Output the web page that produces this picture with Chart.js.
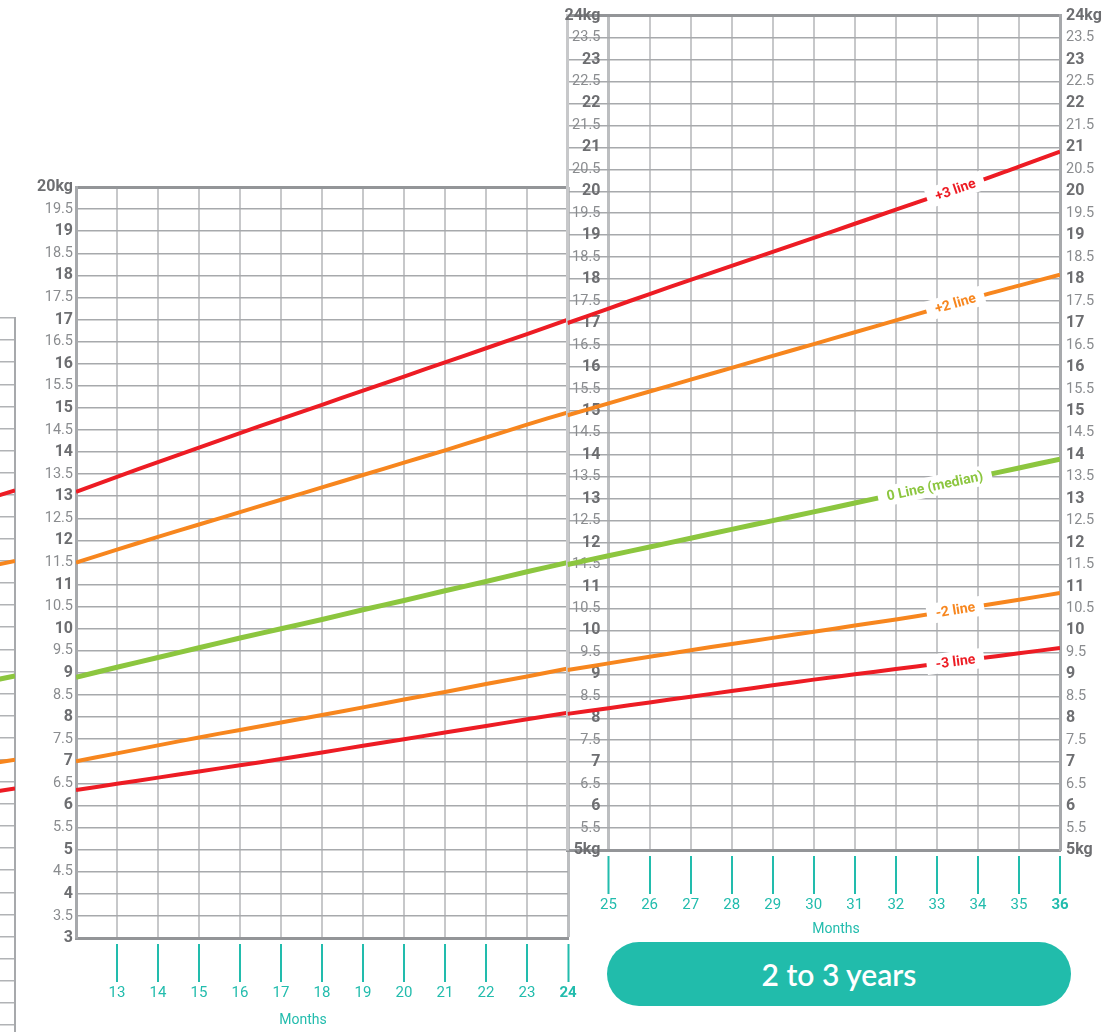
<!DOCTYPE html>
<html>
<head>
<meta charset="utf-8">
<script src="https://cdn.jsdelivr.net/npm/chart.js@4.4.1/dist/chart.umd.min.js"></script>
<style>
  body { margin: 0; width: 1105px; height: 1032px; overflow: hidden; background: #fff; position: relative; font-family: Roboto, sans-serif; }
  canvas { position: absolute; }
  #prevChart { left: -195px; top: 300px; }
  #leftChart { left: 0; top: 170px; }
  #rightChart { left: 540px; top: 0; }
  .months { position: absolute; color: #22bcad; font-size: 14px; transform: translate(-50%, -50%); }
  #pill { position: absolute; left: 607px; top: 942px; width: 464px; height: 64px; border-radius: 32px;
          background: #21bcab; color: #fff; font-family: Lato, sans-serif; font-size: 30px; font-weight: 600;
          display: flex; align-items: center; justify-content: center; }
</style>
</head>
<body>
<canvas id="prevChart" width="220" height="769"></canvas>
<canvas id="leftChart" width="600" height="862"></canvas>
<canvas id="rightChart" width="565" height="940"></canvas>
<div class="months" style="left:303px;top:1019px">Months</div>
<div class="months" style="left:836px;top:928px">Months</div>
<div id="pill">2 to 3 years</div>

<script>
// ---------------- Data ----------------
const PREV_MONTHS = [11, 12];
const PREV_PLUS3 = [12.8, 13.1];
const PREV_PLUS2 = [11.3, 11.5];
const PREV_MEDIAN = [8.7, 8.9];
const PREV_MINUS2 = [6.85, 7.0];
const PREV_MINUS3 = [6.2, 6.35];

const MONTHS_1 = [12, 13, 14, 15, 16, 17, 18, 19, 20, 21, 22, 23, 24];
const PLUS3_1  = [13.1, 13.44, 13.77, 14.1, 14.43, 14.75, 15.07, 15.39, 15.71, 16.03, 16.35, 16.67, 17.0];
const PLUS2_1  = [11.5, 11.79, 12.08, 12.36, 12.64, 12.92, 13.2, 13.48, 13.76, 14.04, 14.33, 14.62, 14.9];
const MEDIAN_1 = [8.9, 9.13, 9.35, 9.57, 9.79, 10.0, 10.21, 10.43, 10.64, 10.86, 11.07, 11.29, 11.5];
const MINUS2_1 = [7.0, 7.18, 7.36, 7.54, 7.71, 7.88, 8.05, 8.22, 8.4, 8.57, 8.75, 8.92, 9.1];
const MINUS3_1 = [6.35, 6.49, 6.63, 6.77, 6.91, 7.05, 7.2, 7.35, 7.5, 7.65, 7.8, 7.95, 8.1];

const MONTHS_2 = [24, 25, 26, 27, 28, 29, 30, 31, 32, 33, 34, 35, 36];
const PLUS3_2  = [17.0, 17.33, 17.66, 17.98, 18.3, 18.62, 18.94, 19.26, 19.58, 19.9, 20.22, 20.56, 20.9];
const PLUS2_2  = [14.9, 15.17, 15.44, 15.71, 15.98, 16.25, 16.52, 16.79, 17.06, 17.33, 17.6, 17.85, 18.1];
const MEDIAN_2 = [11.5, 11.7, 11.9, 12.1, 12.3, 12.5, 12.7, 12.9, 13.1, 13.3, 13.5, 13.7, 13.9];
const MINUS2_2 = [9.1, 9.25, 9.4, 9.55, 9.69, 9.83, 9.97, 10.11, 10.25, 10.4, 10.55, 10.7, 10.85];
const MINUS3_2 = [8.1, 8.23, 8.36, 8.49, 8.62, 8.75, 8.88, 9.0, 9.12, 9.24, 9.36, 9.48, 9.6];

const LINE_NAMES = ["+3 line", "+2 line", "0 Line (median)", "-2 line", "-3 line"];
const LABEL_AT   = [33.45, 33.45, 32.95, 33.45, 33.45];

// ---------------- Style ----------------
const RED = "#ed1c24", ORANGE = "#f7861e", GREEN = "#8cc63f", TEAL = "#22bcad";
const COLORS = [RED, ORANGE, GREEN, ORANGE, RED];
const WIDTHS = [4, 4, 5, 4, 4];
const FONT = "Roboto";
const H_GRID = "#a7a9ac", V_GRID = "#c7c8ca", BORDER = "#939598";
const CLEAR = "rgba(0,0,0,0)";

function toPoints(months, vals) {
  return months.map((m, i) => ({ x: m, y: vals[i] }));
}

function makeSets(months, series) {
  return series.map((vals, i) => ({
    label: LINE_NAMES[i],
    data: toPoints(months, vals),
    borderColor: COLORS[i],
    borderWidth: WIDTHS[i],
    pointRadius: 0,
    tension: 0.4,
    borderCapStyle: "butt"
  }));
}

// tick value from a scriptable context (may be missing)
const tv = ctx => (ctx && ctx.tick) ? ctx.tick.value : null;
const isInt = v => v !== null && Math.abs(v - Math.round(v)) < 1e-6;

function yTickFont(ctx) {
  return isInt(tv(ctx))
    ? { family: FONT, size: 16, weight: "bold" }
    : { family: FONT, size: 14.5 };
}
function yTickColor(ctx) {
  return isInt(tv(ctx)) ? "#6d6e71" : "#8a8c8f";
}
function yLabel(top, bottom) {
  return v => (v === top || (v === bottom && bottom === 5)) ? v + "kg" : v;
}

// labels sitting on the lines, in white boxes
const lineLabelPlugin = {
  id: "lineLabels",
  afterDatasetsDraw(chart, args, opts) {
    if (!opts.show) return;
    const ctx = chart.ctx;
    chart.data.datasets.forEach((ds, di) => {
      const meta = chart.getDatasetMeta(di);
      const at = LABEL_AT[di] - MONTHS_2[0];
      const i = Math.floor(at), t = at - i;
      const p0 = meta.data[i], p1 = meta.data[i + 1];
      const x = p0.x + (p1.x - p0.x) * t;
      const y = p0.y + (p1.y - p0.y) * t;
      const ang = Math.atan2(p1.y - p0.y, p1.x - p0.x);
      ctx.save();
      ctx.translate(x, y);
      ctx.rotate(ang);
      ctx.font = "bold 14px " + FONT;
      const w = ctx.measureText(ds.label).width + 18;
      ctx.fillStyle = "#fff";
      ctx.fillRect(-w / 2, -10, w, 20);
      ctx.fillStyle = ds.borderColor;
      ctx.textAlign = "center";
      ctx.textBaseline = "middle";
      ctx.fillText(ds.label, 0, 1);
      ctx.restore();
    });
  }
};
Chart.register(lineLabelPlugin);

// ---------------- Previous panel (edge only) ----------------
new Chart(document.getElementById("prevChart"), {
  type: "line",
  data: { datasets: makeSets(PREV_MONTHS, [PREV_PLUS3, PREV_PLUS2, PREV_MEDIAN, PREV_MINUS2, PREV_MINUS3]) },
  options: {
    responsive: false, animation: false,
    layout: { padding: { top: 18, left: 0, right: 0, bottom: 0 } },
    plugins: { legend: { display: false }, tooltip: { enabled: false } },
    scales: {
      x: { type: "linear", min: 7, max: 12, display: false },
      y: {
        position: "right", min: 0, max: 17,
        ticks: { display: false, stepSize: 0.5 },
        grid: { color: "#b1b3b6", lineWidth: 1.5, drawTicks: false },
        border: { color: "#a7a9ac", width: 2 },
        afterFit: s => { s.width = 10; }
      }
    }
  }
});

// ---------------- 1 to 2 years ----------------
new Chart(document.getElementById("leftChart"), {
  type: "line",
  data: { datasets: makeSets(MONTHS_1, [PLUS3_1, PLUS2_1, MEDIAN_1, MINUS2_1, MINUS3_1]) },
  options: {
    responsive: false, animation: false,
    layout: { padding: { top: 17, right: 32, left: 0, bottom: 0 } },
    plugins: { legend: { display: false }, tooltip: { enabled: false } },
    scales: {
      x: {
        type: "linear", min: 12, max: 24,
        ticks: {
          stepSize: 1, autoSkip: false, maxRotation: 0, padding: 2,
          callback: v => v === 12 ? "" : v,
          color: TEAL,
          font: ctx => ({ family: FONT, size: 15, weight: tv(ctx) === 24 ? "bold" : "normal" })
        },
        grid: {
          color: ctx => tv(ctx) === 24 ? "#bcbec0" : V_GRID,
          lineWidth: ctx => tv(ctx) === 24 ? 3 : 2,
          tickColor: ctx => tv(ctx) === 12 ? CLEAR : TEAL,
          tickWidth: 2, tickLength: 44,
          tickBorderDash: [0, 4, 40, 200]
        },
        border: { color: BORDER, width: 3 },
        afterFit: s => { s.height = 94; }
      },
      y: {
        min: 3, max: 20,
        ticks: {
          stepSize: 0.5, autoSkip: false, padding: 3,
          callback: yLabel(20, 3),
          font: yTickFont, color: yTickColor
        },
        grid: {
          color: ctx => tv(ctx) === 20 ? BORDER : H_GRID,
          lineWidth: ctx => tv(ctx) === 20 ? 3 : 1.5,
          drawTicks: false
        },
        border: { color: "#a7a9ac", width: 3 },
        afterFit: s => { s.width = 76; }
      }
    }
  }
});

// ---------------- 2 to 3 years ----------------
new Chart(document.getElementById("rightChart"), {
  type: "line",
  data: { datasets: makeSets(MONTHS_2, [PLUS3_2, PLUS2_2, MEDIAN_2, MINUS2_2, MINUS3_2]) },
  options: {
    responsive: false, animation: false,
    layout: { padding: { top: 10, right: 0, left: 0, bottom: 0 } },
    plugins: { legend: { display: false }, tooltip: { enabled: false }, lineLabels: { show: true } },
    scales: {
      x: {
        type: "linear", min: 24, max: 36,
        ticks: {
          stepSize: 1, autoSkip: false, maxRotation: 0, padding: 2,
          callback: v => v === 24 ? "" : v,
          color: TEAL,
          font: ctx => ({ family: FONT, size: 15, weight: tv(ctx) === 36 ? "bold" : "normal" })
        },
        grid: {
          color: ctx => tv(ctx) === 25 ? "#bcbec0" : V_GRID,
          lineWidth: ctx => tv(ctx) === 25 ? 3 : 2,
          tickColor: ctx => tv(ctx) === 24 ? CLEAR : TEAL,
          tickWidth: 2, tickLength: 44,
          tickBorderDash: [0, 4, 40, 200]
        },
        border: { color: BORDER, width: 3 },
        afterFit: s => { s.height = 90; }
      },
      y: {
        min: 5, max: 24,
        ticks: {
          stepSize: 0.5, autoSkip: false, mirror: true, crossAlign: "far", padding: -3,
          callback: yLabel(24, 5),
          font: yTickFont, color: yTickColor
        },
        grid: {
          color: ctx => tv(ctx) === 24 ? BORDER : H_GRID,
          lineWidth: ctx => tv(ctx) === 24 ? 3 : 1.5,
          drawTicks: false
        },
        border: { color: "#c7c8ca", width: 3 },
        afterFit: s => { s.width = 27.5; }
      },
      y2: {
        position: "right", min: 5, max: 24,
        ticks: {
          stepSize: 0.5, autoSkip: false, padding: 6,
          callback: yLabel(24, 5),
          font: yTickFont, color: yTickColor
        },
        grid: { drawOnChartArea: false, drawTicks: false },
        border: { color: "#a7a9ac", width: 3 },
        afterFit: s => { s.width = 45; }
      }
    }
  }
});
</script>
</body>
</html>
